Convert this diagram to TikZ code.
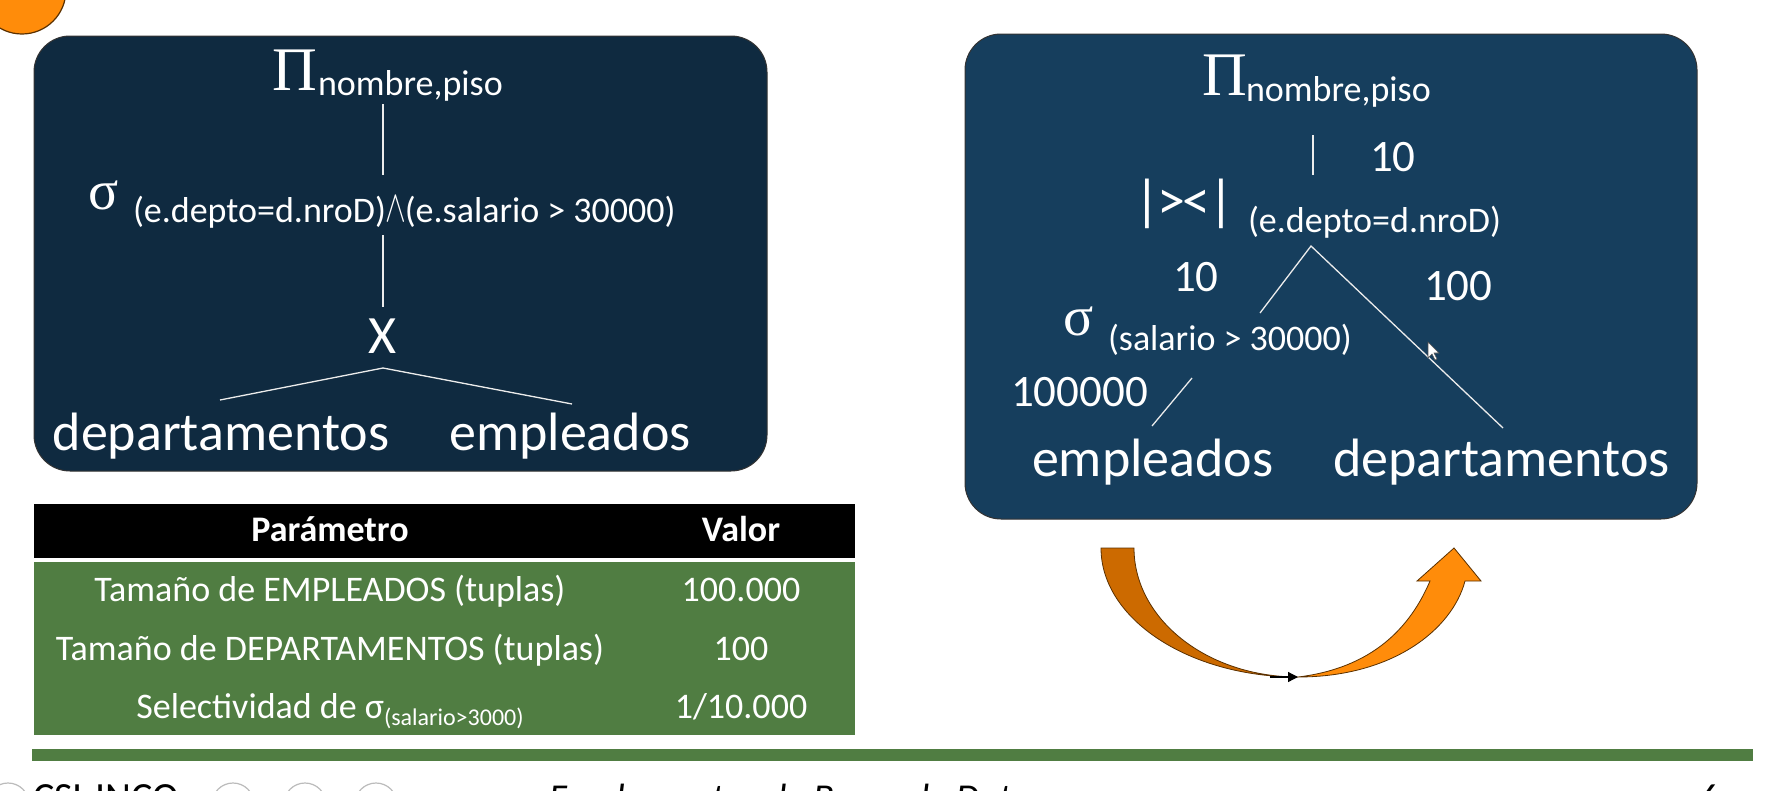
\documentclass[tikz,border=0pt]{standalone}
\usepackage{fontspec}
\setmainfont{Carlito}
\newfontfamily\grkserif{Liberation Serif}
\usetikzlibrary{arrows.meta}
\newcommand\fsz[1]{\fontsize{#1}{#1}\selectfont}
\newcommand\andsym{\raisebox{1pt}{\scalebox{1.25}[1.8]{\(\wedge\)}}}

\definecolor{navyL}{HTML}{0F2A40}
\definecolor{navyR}{HTML}{163E5D}
\definecolor{tgreen}{HTML}{507D42}
\definecolor{orangeD}{HTML}{CC6A00}
\definecolor{orangeL}{HTML}{FF8C0A}
\definecolor{edgebrown}{HTML}{5A3000}
\definecolor{ringgray}{HTML}{BBBBBB}

\tikzset{
  txt/.style={inner sep=0, outer sep=0, text=white, anchor=base west},
  bigtxt/.style={txt, font=\fsz{54}},
  subtxt/.style={txt, font=\fsz{36}},
  numtxt/.style={txt, font=\fsz{45}},
  pitxt/.style={txt, font=\grkserif\fsz{62}},
  sigtxt/.style={txt, font=\grkserif\fsz{56}},
  branch/.style={draw=white!85!gray, line width=1.3},
  panel/.style={rounded corners=36, line width=1},
  tabtxt/.style={inner sep=0, text=white, anchor=base, font=\fsz{36}},
  foot/.style={inner sep=0, anchor=base west, text=black},
}

\begin{document}
\begin{tikzpicture}[x=1pt,y=-1pt]
\useasboundingbox (0,0) rectangle (1768,790);
\clip (0,0) rectangle (1768,790);

% corner badge
\filldraw[fill=orangeL, draw=edgebrown, line width=1.2] (22,-10) circle (44);

% ---------- left panel: initial plan ----------
\filldraw[panel, fill=navyL, draw=black!80] (34,36) rectangle (767,471);
\node[pitxt]  (lpi)    at (272,90)  {Π};
\node[subtxt] (lpisub) at (318,95)  {nombre,piso};
\node[sigtxt] (lsig)   at (88,209)  {σ};
\node[subtxt] (lsigsub) at (133,222) {(e.depto=d.nroD)\kern-1pt\andsym\kern-1pt(e.salario > 30000)};
\node[bigtxt, anchor=base] (lx)   at (383,353) {X};
\node[bigtxt, anchor=base] (ldep) at (221,450) {departamentos};
\node[bigtxt, anchor=base] (lemp) at (570,450) {empleados};

\coordinate (la1) at (383,104); \coordinate (la2) at (383,175);
\coordinate (lb1) at (383,235); \coordinate (lb2) at (383,307);
\coordinate (lc)  at (383,368);
\coordinate (lcl) at (220,400); \coordinate (lcr) at (572,404);
\draw[branch] (la1) -- (la2);
\draw[branch] (lb1) -- (lb2);
\draw[branch] (lcl) -- (lc) -- (lcr);

% ---------- right panel: optimized plan ----------
\filldraw[panel, fill=navyR, draw=black!80] (965,34) rectangle (1697,519);
\node[pitxt]  (rpi)    at (1202,95)  {Π};
\node[subtxt] (rpisub) at (1246,101) {nombre,piso};
\node[numtxt] (rn10a)  at (1370,171) {10};
\node[txt, font=\fsz{56}] (rjoin) at (1134,219) {|\kern-2pt>\kern-3pt<\kern-2pt|};
\node[subtxt] (rjoinsub) at (1248,232) {(e.depto=d.nroD)};
\node[numtxt] (rn10b)  at (1173,291) {10};
\node[numtxt] (rn100)  at (1424,300) {100};
\node[sigtxt] (rsig)   at (1063,335) {σ};
\node[subtxt] (rsigsub) at (1108,350) {(salario > 30000)};
\node[numtxt] (rn100000) at (1011,406) {100000};
\node[bigtxt] (remp) at (1032,476) {empleados};
\node[bigtxt] (rdep) at (1333,476) {departamentos};

\coordinate (ra1) at (1313,135); \coordinate (ra2) at (1313,175);
\coordinate (rb)  at (1311,246);
\coordinate (rbl) at (1260,313); \coordinate (rbr) at (1503,428);
\coordinate (rc1) at (1192,378); \coordinate (rc2) at (1152,426);
\draw[branch] (ra1) -- (ra2);
\draw[branch] (rbl) -- (rb) -- (rbr);
\draw[branch] (rc1) -- (rc2);

% mouse pointer
\filldraw[fill=white, draw=black!70, line width=0.6]
  (1428,342) -- (1428,358) -- (1432,354) -- (1435,360) -- (1437,359)
  -- (1434,353) -- (1439,353) -- cycle;

% ---------- parameter table ----------
\fill[black]  (34,504) rectangle (855,558);
\fill[tgreen] (34,562) rectangle (855,735);
\node[tabtxt, font=\bfseries\fsz{36}] (hpar) at (330,541) {Parámetro};
\node[tabtxt, font=\bfseries\fsz{36}] (hval) at (741,541) {Valor};
\node[tabtxt] (p1) at (330,601) {Tamaño de EMPLEADOS (tuplas)};
\node[tabtxt] (v1) at (741,601) {100.000};
\node[tabtxt] (p2) at (330,660) {Tamaño de DEPARTAMENTOS (tuplas)};
\node[tabtxt] (v2) at (741,660) {100};
\node[tabtxt] (p3) at (330,718) {Selectividad de σ\raisebox{-7pt}{\fsz{24}(salario>3000)}};
\node[tabtxt] (v3) at (741,718) {1/10.000};

% ---------- rewrite arrow ----------
\coordinate (arrL1) at (1101,548);
\coordinate (arrL2) at (1134,548);
\coordinate (arrB)  at (1298,677);
\coordinate (arrR1) at (1430,581);
\coordinate (arrR2) at (1465,581);
\filldraw[fill=orangeD, draw=edgebrown, line width=0.8]
  (arrL1) -- (arrL2) .. controls (1134,619) and (1207,677) .. (arrB)
  .. controls (1189,677) and (1101,619) .. (arrL1) -- cycle;
\filldraw[fill=orangeL, draw=edgebrown, line width=0.8]
  (arrB) .. controls (1392,677) and (1452,630) .. (arrR2)
  -- (1481,581) -- (1454,548) -- (1417,581) -- (arrR1)
  .. controls (1410,628) and (1372,668) .. (arrB) -- cycle;
\coordinate (arrT) at (1270,677);
\draw[line width=1.2, -{Triangle[length=10,width=10]}] (arrT) -- (arrB);

% ---------- footer ----------
\fill[tgreen] (32,749) rectangle (1753,761);
\foreach \cx/\nm in {8/r0,233/r1,305/r2,376/r3}
  \draw[ringgray, line width=1.2] (\cx,804) circle (21) coordinate (\nm);
\node[foot, font=\fsz{40}] (org) at (33,810) {CSI-INCO};
\node[foot, font=\itshape\fsz{38}] (course) at (549,810) {Fundamentos de Bases de Datos};
\node[foot, font=\fsz{38}] (page) at (1700,810) {6};
\end{tikzpicture}
\end{document}
